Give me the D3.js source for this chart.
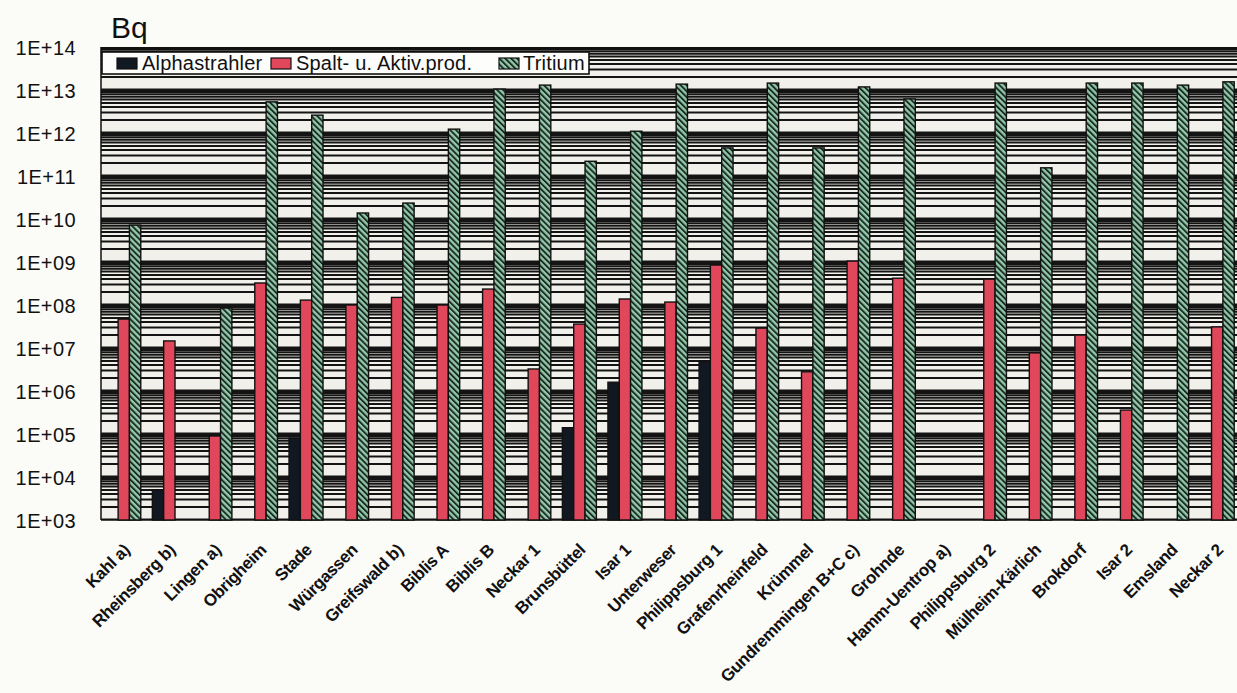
<!DOCTYPE html>
<html>
<head>
<meta charset="utf-8">
<script src="https://cdn.jsdelivr.net/npm/d3@7"></script>
<style>
  html, body { margin: 0; padding: 0; background: #fbfbf8; }
  svg { display: block; }
</style>
</head>
<body>
<svg id="chart" width="1237" height="693"></svg>
<script>
// Plants (Kernkraftwerke)
const plants = [
  "Kahl a)", "Rheinsberg b)", "Lingen a)", "Obrigheim", "Stade", "Würgassen",
  "Greifswald b)", "Biblis A", "Biblis B", "Neckar 1", "Brunsbüttel", "Isar 1",
  "Unterweser", "Philippsburg 1", "Grafenrheinfeld", "Krümmel",
  "Gundremmingen B+C c)", "Grohnde", "Hamm-Uentrop a)", "Philippsburg 2",
  "Mülheim-Kärlich", "Brokdorf", "Isar 2", "Emsland", "Neckar 2"
];

// Emitted activity in Bq (null = no value)
const alphastrahler = [
  null, 5.0e3, null, null, 8.0e4, null,
  null, null, null, null, 1.4e5, 1.6e6,
  null, 4.7e6, null, null,
  null, null, null, null,
  null, null, null, null, null
];
const spaltAktiv = [
  4.7e7, 1.46e7, 9.0e4, 3.25e8, 1.3e8, 1.0e8,
  1.5e8, 1.0e8, 2.35e8, 3.25e6, 3.6e7, 1.38e8,
  1.17e8, 8.5e8, 2.9e7, 2.8e6,
  1.05e9, 4.2e8, null, 4.0e8,
  7.7e6, 2.0e7, 3.6e5, null, 3.1e7
];
const tritium = [
  7.2e9, null, 8.5e7, 5.3e12, 2.6e12, 1.38e10,
  2.35e10, 1.23e12, 1.05e13, 1.3e13, 2.2e11, 1.1e12,
  1.37e13, 4.5e11, 1.45e13, 4.5e11,
  1.18e13, 6.2e12, null, 1.45e13,
  1.55e11, 1.45e13, 1.45e13, 1.3e13, 1.55e13
];

const seriesNames = ["Alphastrahler", "Spalt- u. Aktiv.prod.", "Tritium"];
const yTickValues = [1e3, 1e4, 1e5, 1e6, 1e7, 1e8, 1e9, 1e10, 1e11, 1e12, 1e13, 1e14];
const yTickLabels = ["1E+03", "1E+04", "1E+05", "1E+06", "1E+07", "1E+08",
                     "1E+09", "1E+10", "1E+11", "1E+12", "1E+13", "1E+14"];
const unitLabel = "Bq";

const svg = d3.select("#chart");
const plot = { left: 101, right: 1240, top: 47, bottom: 520 };
const FONT = "Liberation Sans, Arial, Helvetica, sans-serif";

const x0 = d3.scaleBand()
  .domain(plants)
  .range([plot.left, plot.right])
  .paddingInner(0.254)
  .paddingOuter(0.127);
const x1 = d3.scaleBand()
  .domain(seriesNames)
  .range([0, x0.bandwidth()]);
const y = d3.scaleLog()
  .domain([1e3, 1e14])
  .range([plot.bottom, plot.top]);

// Fill patterns
const defs = svg.append("defs");
const hatch = defs.append("pattern")
  .attr("id", "hatch")
  .attr("patternUnits", "userSpaceOnUse")
  .attr("width", 4.2).attr("height", 4.2)
  .attr("patternTransform", "rotate(-45)");
hatch.append("rect").attr("width", 4.2).attr("height", 4.2).attr("fill", "#92c9a9");
hatch.append("rect").attr("width", 1.9).attr("height", 4.2).attr("fill", "#1d2b25");

defs.append("clipPath").attr("id", "plotClip")
  .append("rect")
  .attr("x", plot.left).attr("y", plot.top)
  .attr("width", plot.right - plot.left).attr("height", plot.bottom - plot.top);

// Plot background and logarithmic grid
svg.append("rect")
  .attr("x", plot.left).attr("y", plot.top)
  .attr("width", plot.right - plot.left).attr("height", plot.bottom - plot.top)
  .attr("fill", "#f1f0ea");

const minorValues = [];
for (let e = 3; e < 14; e++) {
  for (let k = 1; k <= 9; k++) minorValues.push(k * Math.pow(10, e));
}
minorValues.push(1e14);

const grid = svg.append("g").attr("clip-path", "url(#plotClip)");
grid.selectAll("line.minor")
  .data(minorValues)
  .join("line")
  .attr("class", "minor")
  .attr("x1", plot.left).attr("x2", plot.right)
  .attr("y1", d => y(d)).attr("y2", d => y(d))
  .attr("stroke", "#141414")
  .attr("stroke-width", d => (Math.abs(Math.log10(d) % 1) < 1e-9 ? 3 : 2));

// Plot frame
svg.append("line")
  .attr("x1", plot.left).attr("x2", plot.right)
  .attr("y1", plot.top + 1.5).attr("y2", plot.top + 1.5)
  .attr("stroke", "#111").attr("stroke-width", 3);
svg.append("line")
  .attr("x1", plot.left).attr("x2", plot.right)
  .attr("y1", plot.bottom).attr("y2", plot.bottom)
  .attr("stroke", "#111").attr("stroke-width", 1.5);
svg.append("line")
  .attr("x1", plot.left).attr("x2", plot.left)
  .attr("y1", plot.top).attr("y2", plot.bottom)
  .attr("stroke", "#111").attr("stroke-width", 1.5);

// Bars
const fills = {
  "Alphastrahler": "#121821",
  "Spalt- u. Aktiv.prod.": "#e0475b",
  "Tritium": "url(#hatch)"
};
const seriesValues = [alphastrahler, spaltAktiv, tritium];

const rows = plants.map((p, i) => ({
  plant: p,
  values: seriesNames.map((s, j) => ({ series: s, value: seriesValues[j][i] }))
}));

const groups = svg.append("g")
  .selectAll("g")
  .data(rows)
  .join("g")
  .attr("transform", d => `translate(${x0(d.plant)},0)`);

groups.selectAll("rect")
  .data(d => d.values.filter(v => v.value != null))
  .join("rect")
  .attr("x", d => x1(d.series))
  .attr("width", x1.bandwidth())
  .attr("y", d => y(d.value))
  .attr("height", d => y(1e3) - y(d.value))
  .attr("fill", d => fills[d.series])
  .attr("stroke", "#111")
  .attr("stroke-width", 1.4);

// Y axis labels
const yAxis = d3.axisLeft(y)
  .tickValues(yTickValues)
  .tickFormat((d, i) => yTickLabels[i])
  .tickSize(0)
  .tickPadding(0);
const yAxisG = svg.append("g")
  .attr("transform", "translate(76,0)")
  .call(yAxis);
yAxisG.select(".domain").remove();
yAxisG.selectAll("text")
  .attr("font-family", FONT)
  .attr("font-size", 20)
  .attr("letter-spacing", "0.4px")
  .attr("fill", "#111")
  .attr("dy", "0.38em");

// Unit title
svg.append("text")
  .attr("x", 111).attr("y", 38)
  .attr("font-family", FONT)
  .attr("font-size", 30)
  .attr("fill", "#111")
  .text(unitLabel);

// X axis labels (rotated)
const xAxis = d3.axisBottom(x0).tickSize(0).tickPadding(0);
const xAxisG = svg.append("g")
  .attr("transform", `translate(0,${plot.bottom})`)
  .call(xAxis);
xAxisG.select(".domain").remove();
xAxisG.selectAll("text")
  .attr("font-family", FONT)
  .attr("font-size", 17)
  .attr("font-weight", "bold")
  .attr("letter-spacing", "-0.4px")
  .attr("fill", "#111")
  .attr("text-anchor", "end")
  .attr("dy", null)
  .attr("y", 0)
  .attr("transform", "translate(7,31) rotate(-45)");

// Legend
const legend = svg.append("g");
legend.append("rect")
  .attr("x", 102).attr("y", 52)
  .attr("width", 487).attr("height", 22)
  .attr("fill", "#fdfdfb")
  .attr("stroke", "#111").attr("stroke-width", 1.6);

const legendItems = [
  { name: seriesNames[0], sx: 117, tx: 142 },
  { name: seriesNames[1], sx: 271, tx: 296 },
  { name: seriesNames[2], sx: 499, tx: 523 }
];
legendItems.forEach(it => {
  legend.append("rect")
    .attr("x", it.sx).attr("y", 58)
    .attr("width", 20).attr("height", 11)
    .attr("fill", fills[it.name])
    .attr("stroke", "#111").attr("stroke-width", 1.2);
  legend.append("text")
    .attr("x", it.tx).attr("y", 70)
    .attr("font-family", FONT)
    .attr("font-size", 20)
    .attr("letter-spacing", "0.2px")
    .attr("fill", "#111")
    .text(it.name);
});
</script>
</body>
</html>
